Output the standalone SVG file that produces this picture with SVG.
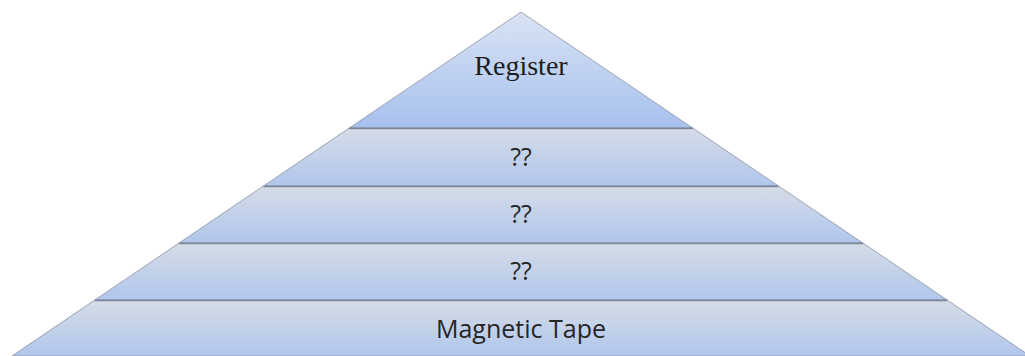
<svg xmlns="http://www.w3.org/2000/svg" width="1025" height="356" viewBox="0 0 1025 356">
  <defs>
    <linearGradient id="gTop" x1="0" y1="0" x2="0" y2="1">
      <stop offset="0" stop-color="#dae3f4"/>
      <stop offset="1" stop-color="#a6c1ee"/>
    </linearGradient>
    <linearGradient id="gBand" x1="0" y1="0" x2="0" y2="1">
      <stop offset="0" stop-color="#d6dce7"/>
      <stop offset="1" stop-color="#b0c6ec"/>
    </linearGradient>
    <style>
      .lvl { stroke: #8a93a3; stroke-width: 0.8; }
      .sep { stroke: #7b879c; stroke-width: 1.6; }
      .serif { font-family: "Liberation Serif", "Times New Roman", serif; font-size: 28px; fill: #1e1e1e; text-anchor: middle; }
      .sans { font-family: "Open Sans", "Liberation Sans", sans-serif; font-size: 25px; fill: #262626; text-anchor: middle; }
    </style>
  </defs>
  <rect width="1025" height="356" fill="#ffffff"/>
  <g id="level-register">
    <polygon class="lvl" fill="url(#gTop)" points="521,12 349.3,128 692.7,128"/>
    <text class="serif" x="521" y="75">Register</text>
  </g>
  <g id="level-2">
    <polygon class="lvl" fill="url(#gBand)" points="349.3,128 692.7,128 778.5,186 263.5,186"/>
    <line class="sep" x1="349.3" y1="128.5" x2="692.7" y2="128.5"/>
    <text class="sans" x="521" y="166">??</text>
  </g>
  <g id="level-3">
    <polygon class="lvl" fill="url(#gBand)" points="263.5,186 778.5,186 862.9,243 179.1,243"/>
    <line class="sep" x1="263.5" y1="186.5" x2="778.5" y2="186.5"/>
    <text class="sans" x="521" y="223">??</text>
  </g>
  <g id="level-4">
    <polygon class="lvl" fill="url(#gBand)" points="179.1,243 862.9,243 947.2,300 94.8,300"/>
    <line class="sep" x1="179.1" y1="243.5" x2="862.9" y2="243.5"/>
    <text class="sans" x="521" y="280">??</text>
  </g>
  <g id="level-tape">
    <polygon class="lvl" fill="url(#gBand)" points="94.8,300 947.2,300 1030.1,356 11.9,356"/>
    <line class="sep" x1="94.8" y1="300.5" x2="947.2" y2="300.5"/>
    <text class="sans" x="521" y="338">Magnetic Tape</text>
  </g>
  <g id="connectors"/>
</svg>
